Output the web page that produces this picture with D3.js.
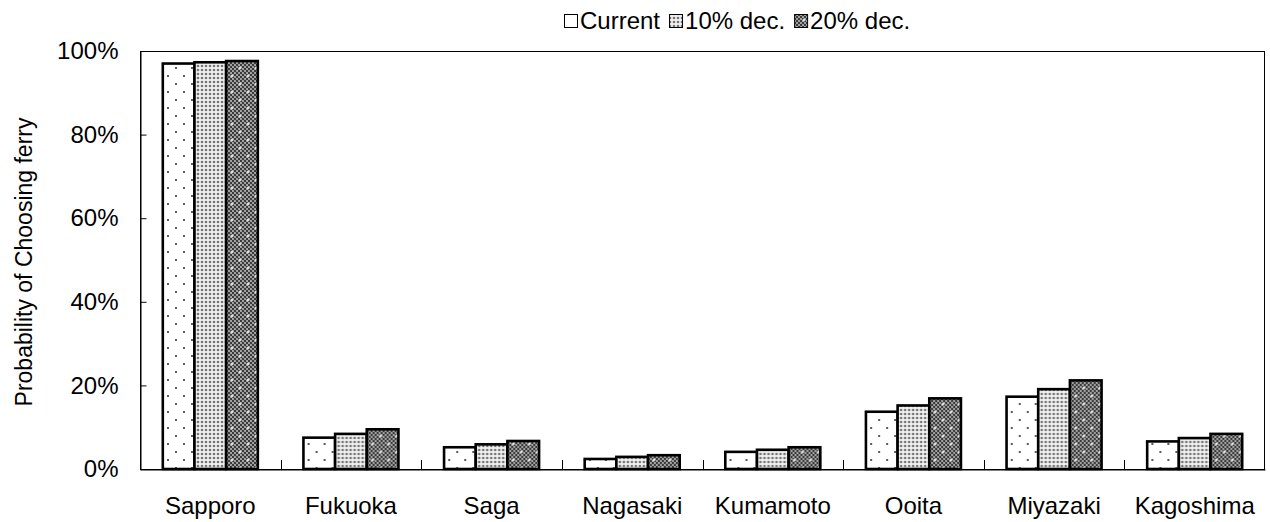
<!DOCTYPE html>
<html>
<head>
<meta charset="utf-8">
<script src="https://cdn.jsdelivr.net/npm/d3@7"></script>
<style>
  html, body { margin: 0; padding: 0; background: #fff; }
  svg { display: block; font-family: "Liberation Sans", Arial, sans-serif; }
</style>
</head>
<body>
<svg id="chart" width="1270" height="522"></svg>
<script>
// Destinations along the x axis
const categories = ["Sapporo", "Fukuoka", "Saga", "Nagasaki", "Kumamoto", "Ooita", "Miyazaki", "Kagoshima"];
// Fare scenarios shown as grouped bars
const seriesNames = ["Current", "10% dec.", "20% dec."];
// Probability of choosing the ferry (%) per scenario
const currentValues = [97.0, 7.5, 5.2, 2.4, 4.1, 13.7, 17.3, 6.6];
const dec10Values   = [97.3, 8.4, 5.9, 2.9, 4.6, 15.2, 19.1, 7.4];
const dec20Values   = [97.6, 9.5, 6.7, 3.3, 5.2, 16.9, 21.2, 8.4];
// Y axis tick values (%)
const yTicks = [0, 20, 40, 60, 80, 100];

const seriesValues = [currentValues, dec10Values, dec20Values];
const patternIds = ["pat-current", "pat-dec10", "pat-dec20"];

const svg = d3.select("#chart");
const plot = { left: 140, right: 1265, top: 51, bottom: 469 };
const FONT = "'Liberation Sans', Arial, sans-serif";

// ---- fill patterns ----
const defs = svg.append("defs");

// sparse dots on white
const p0 = defs.append("pattern").attr("id", "pat-current")
  .attr("patternUnits", "userSpaceOnUse").attr("width", 16).attr("height", 16);
p0.append("rect").attr("width", 16).attr("height", 16).attr("fill", "#fff");
p0.append("circle").attr("cx", 4).attr("cy", 4).attr("r", 1.1).attr("fill", "#333");
p0.append("circle").attr("cx", 12).attr("cy", 12).attr("r", 1.1).attr("fill", "#333");

// fine dense dots
const p1 = defs.append("pattern").attr("id", "pat-dec10")
  .attr("patternUnits", "userSpaceOnUse").attr("width", 4).attr("height", 4);
p1.append("rect").attr("width", 4).attr("height", 4).attr("fill", "#f2f2f2");
p1.append("circle").attr("cx", 2).attr("cy", 2).attr("r", 1.35).attr("fill", "#767676");

// dark checker with white crosses
const pc = defs.append("pattern").attr("id", "pat-checker")
  .attr("patternUnits", "userSpaceOnUse").attr("width", 4).attr("height", 4);
pc.append("rect").attr("width", 4).attr("height", 4).attr("fill", "#a0a0a0");
pc.append("rect").attr("x", 0).attr("y", 0).attr("width", 2).attr("height", 2).attr("fill", "#3a3a3a");
pc.append("rect").attr("x", 2).attr("y", 2).attr("width", 2).attr("height", 2).attr("fill", "#3a3a3a");

const p2 = defs.append("pattern").attr("id", "pat-dec20")
  .attr("patternUnits", "userSpaceOnUse").attr("width", 16).attr("height", 16);
p2.append("rect").attr("width", 16).attr("height", 16).attr("fill", "url(#pat-checker)");
[[4, 4], [12, 12]].forEach(([cx, cy]) => {
  p2.append("rect").attr("x", cx - 1.5).attr("y", cy - 0.5).attr("width", 3).attr("height", 1).attr("fill", "#fff");
  p2.append("rect").attr("x", cx - 0.5).attr("y", cy - 1.5).attr("width", 1).attr("height", 3).attr("fill", "#fff");
});

// ---- scales ----
const x = d3.scaleBand().domain(categories).range([plot.left, plot.right]).paddingInner(0).paddingOuter(0);
const xSub = d3.scaleBand().domain(seriesNames).range([0, x.bandwidth()]).paddingInner(0).paddingOuter(0.72);
const y = d3.scaleLinear().domain([0, 100]).range([plot.bottom, plot.top]);

// ---- plot border ----
svg.append("rect")
  .attr("x", plot.left + 0.5).attr("y", plot.top + 0.5)
  .attr("width", plot.right - plot.left - 1).attr("height", plot.bottom - plot.top)
  .attr("fill", "none").attr("stroke", "#000").attr("stroke-width", 1);

// ---- bars ----
const groups = svg.append("g").selectAll("g")
  .data(categories)
  .join("g")
  .attr("transform", d => `translate(${x(d)},0)`);

groups.selectAll("rect")
  .data((d, i) => seriesNames.map((s, k) => ({ s, k, v: seriesValues[k][i] })))
  .join("rect")
  .attr("x", d => xSub(d.s))
  .attr("y", d => y(d.v))
  .attr("width", xSub.bandwidth())
  .attr("height", d => y(0) - y(d.v))
  .attr("fill", d => `url(#${patternIds[d.k]})`)
  .attr("stroke", "#000")
  .attr("stroke-width", 2.6);

// ---- y axis ----
const yAxis = d3.axisLeft(y)
  .tickValues(yTicks)
  .tickSize(-6)
  .tickPadding(22)
  .tickFormat(d => d + "%");
const gy = svg.append("g").attr("transform", `translate(${plot.left + 0.5},0)`).call(yAxis);
gy.select(".domain").attr("stroke", "#000");
gy.selectAll(".tick line").attr("stroke", "#000");
gy.selectAll(".tick text").attr("font-size", 24).attr("fill", "#000").attr("font-family", FONT);

// ---- x axis ----
const xAxis = d3.axisBottom(x).tickSize(0).tickPadding(27);
const gx = svg.append("g").attr("transform", `translate(0,${plot.bottom + 0.5})`).call(xAxis);
gx.select(".domain").attr("stroke", "#000");
gx.selectAll(".tick text").attr("font-size", 24).attr("fill", "#000").attr("font-family", FONT);

// category separator ticks pointing into the plot
svg.append("g").selectAll("line")
  .data(categories.slice(1))
  .join("line")
  .attr("x1", d => Math.round(x(d)) + 0.5).attr("x2", d => Math.round(x(d)) + 0.5)
  .attr("y1", plot.bottom - 9).attr("y2", plot.bottom)
  .attr("stroke", "#000").attr("stroke-width", 1);

// ---- y axis title ----
svg.append("text")
  .attr("transform", `translate(32,${(plot.top + plot.bottom) / 2 + 2}) rotate(-90)`)
  .attr("text-anchor", "middle")
  .attr("font-size", 23)
  .attr("fill", "#000")
  .attr("font-family", FONT)
  .text("Probability of Choosing ferry");

// ---- legend ----
const legend = svg.append("g");
const legendFont = 24;
let lx = 564;
seriesNames.forEach((name, k) => {
  legend.append("rect")
    .attr("x", lx + 0.5).attr("y", 14.5)
    .attr("width", 13).attr("height", 13)
    .attr("fill", `url(#${patternIds[k]})`)
    .attr("stroke", "#000").attr("stroke-width", 1);
  const t = legend.append("text")
    .attr("x", lx + 16).attr("y", 29)
    .attr("font-size", legendFont).attr("fill", "#000")
    .attr("font-family", FONT)
    .text(name);
  lx += 16 + t.node().getComputedTextLength() + 9;
});
</script>
</body>
</html>
